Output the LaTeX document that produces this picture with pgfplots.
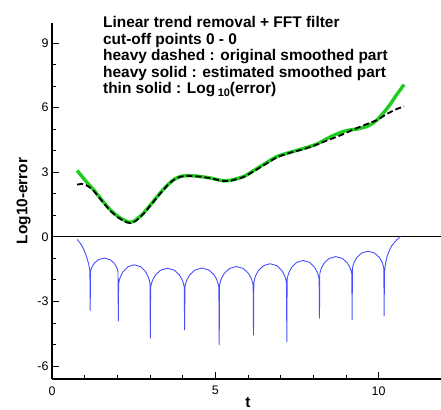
\documentclass[border=0pt]{standalone}
\usepackage{fontspec}
\setmainfont{Liberation Sans}
\usepackage{pgfplots}
\pgfplotsset{compat=1.18}
\definecolor{lgreen}{RGB}{30,205,30}
\definecolor{eblue}{RGB}{70,80,255}
\begin{document}
\begin{tikzpicture}
\begin{axis}[
  scale only axis,
  width=391.9bp, height=355.9bp,
  xmin=0, xmax=12, ymin=-6.6, ymax=9.93,
  axis x line=bottom, axis y line=left,
  axis line style={-, line width=1.3bp},
  xtick={0,5,10}, ytick={-6,-3,0,3,6,9},
  minor x tick num=4, minor y tick num=2,
  tick align=inside,
  major tick length=7bp, minor tick length=4bp,
  tick style={black, line width=0.8bp},
  /pgf/number format/assume math mode=true,
  ticklabel style={font=\fontsize{12.5}{14}\selectfont},
  xticklabel style={yshift=-4bp},
  xlabel={t}, ylabel={Log10-error},
  xlabel style={yshift=4.5bp},
  label style={font=\fontsize{15.5}{17}\selectfont\bfseries},
  clip=true,
]
\addplot[black, line width=0.8bp] coordinates {(0,0) (12,0)};
\addplot[eblue, line width=0.9bp, line join=round] coordinates {
(0.77,-0.12) (0.85,-0.27) (0.91,-0.40) (0.97,-0.58) (1.04,-0.84) (1.09,-1.08) (1.13,-1.32) (1.16,-1.58) (1.17,-3.43)
(1.1786,-1.631) (1.1958,-1.517) (1.2302,-1.382) (1.299,-1.219) (1.428,-1.056) (1.60,-0.99) (1.772,-1.056) (1.901,-1.219) (1.9698,-1.382) (2.0042,-1.517) (2.0214,-1.631)
(2.03,-3.91)
(2.0398,-2.181) (2.0594,-2.025) (2.0986,-1.839) (2.177,-1.615) (2.324,-1.391) (2.52,-1.30) (2.716,-1.391) (2.863,-1.615) (2.9414,-1.839) (2.9806,-2.025) (3.0002,-2.181)
(3.01,-4.71)
(3.0205,-2.341) (3.0415,-2.185) (3.0835,-1.999) (3.1675,-1.775) (3.325,-1.551) (3.535,-1.46) (3.745,-1.551) (3.9025,-1.775) (3.9865,-1.999) (4.0285,-2.185) (4.0495,-2.341)
(4.06,-4.33)
(4.0706,-2.331) (4.0918,-2.175) (4.1342,-1.989) (4.219,-1.765) (4.378,-1.541) (4.59,-1.45) (4.802,-1.541) (4.961,-1.765) (5.0458,-1.989) (5.0882,-2.175) (5.1094,-2.331)
(5.12,-5.02)
(5.1305,-2.261) (5.1515,-2.105) (5.1935,-1.919) (5.2775,-1.695) (5.435,-1.471) (5.645,-1.38) (5.855,-1.471) (6.0125,-1.695) (6.0965,-1.919) (6.1385,-2.105) (6.1595,-2.261)
(6.17,-4.56)
(6.1802,-2.131) (6.2006,-1.975) (6.2414,-1.789) (6.323,-1.565) (6.476,-1.341) (6.68,-1.25) (6.884,-1.341) (7.037,-1.565) (7.1186,-1.789) (7.1594,-1.975) (7.1798,-2.131)
(7.19,-4.87)
(7.20,-1.981) (7.22,-1.825) (7.26,-1.639) (7.34,-1.415) (7.49,-1.191) (7.69,-1.10) (7.89,-1.191) (8.04,-1.415) (8.12,-1.639) (8.16,-1.825) (8.18,-1.981)
(8.19,-3.78)
(8.20,-1.721) (8.22,-1.579) (8.26,-1.410) (8.34,-1.206) (8.49,-1.003) (8.69,-0.92) (8.89,-1.003) (9.04,-1.206) (9.12,-1.410) (9.16,-1.579) (9.18,-1.721)
(9.19,-3.86)
(9.1998,-1.471) (9.2194,-1.329) (9.2586,-1.160) (9.337,-0.956) (9.484,-0.753) (9.68,-0.67) (9.876,-0.753) (10.023,-0.956) (10.1014,-1.160) (10.1406,-1.329) (10.1602,-1.471)
(10.17,-3.67)
(10.18,-1.65) (10.21,-1.25) (10.27,-0.86) (10.35,-0.57) (10.42,-0.38) (10.55,-0.15) (10.67,0.02)
};
\addplot[lgreen, line width=3.4bp, smooth, tension=0.4, line join=round] coordinates {
(0.77,3.08) (1.0,2.65) (1.27,2.19) (1.52,1.72) (1.78,1.26) (2.04,0.92) (2.29,0.71) (2.39,0.67) (2.55,0.76) (2.80,1.10) (3.05,1.55) (3.31,2.03) (3.52,2.38) (3.72,2.65) (3.93,2.80) (4.13,2.84) (4.34,2.83) (4.54,2.80) (4.85,2.73) (5.05,2.66) (5.25,2.60) (5.46,2.62) (5.66,2.70) (5.87,2.80) (6.12,3.02) (6.38,3.27) (6.64,3.51) (6.89,3.73) (7.15,3.86) (7.40,3.97) (7.65,4.08) (7.91,4.20) (8.17,4.35) (8.43,4.57) (8.68,4.75) (8.94,4.90) (9.15,4.97) (9.35,5.01) (9.5,5.06) (9.65,5.13) (9.8,5.25) (9.96,5.44) (10.12,5.70) (10.27,5.98) (10.40,6.25) (10.52,6.53) (10.65,6.80) (10.78,7.07)
};
\addplot[black, line width=1.8bp, dash pattern=on 6bp off 3bp, smooth, tension=0.4] coordinates {
(0.77,2.42) (0.9,2.46) (1.0,2.43) (1.11,2.34) (1.27,2.15) (1.52,1.68) (1.78,1.22) (2.04,0.88) (2.29,0.67) (2.39,0.64) (2.55,0.72) (2.80,1.06) (3.05,1.52) (3.31,2.00) (3.52,2.36) (3.72,2.63) (3.93,2.79) (4.13,2.83) (4.34,2.82) (4.54,2.79) (4.85,2.72) (5.05,2.65) (5.25,2.59) (5.46,2.60) (5.66,2.68) (5.87,2.78) (6.12,2.99) (6.38,3.23) (6.64,3.47) (6.89,3.69) (7.15,3.84) (7.40,3.95) (7.65,4.05) (7.91,4.17) (8.17,4.32) (8.43,4.48) (8.68,4.62) (8.94,4.78) (9.15,4.93) (9.35,5.06) (9.5,5.15) (9.65,5.24) (9.8,5.33) (9.96,5.42) (10.12,5.58) (10.27,5.72) (10.45,5.86) (10.6,5.96) (10.78,6.06)
};
\coordinate (leg) at (axis cs:1.56,10.25);
\end{axis}
\node[anchor=north west, align=left, inner sep=0pt, font=\fontsize{15.5}{16.6}\selectfont\bfseries] at (leg) {Linear trend removal + FFT filter\\cut-off points 0 - 0\\heavy dashed : original smoothed part\\heavy solid : estimated smoothed part\\thin solid : Log\,\raisebox{-0.35ex}{\fontsize{11}{11}\selectfont 10}(error)};
\pgfresetboundingbox
\path[use as bounding box] ([xshift=-52bp,yshift=-31bp]current axis.south west) rectangle ([xshift=-2.9bp,yshift=23bp]current axis.north east);
\end{tikzpicture}
\end{document}
